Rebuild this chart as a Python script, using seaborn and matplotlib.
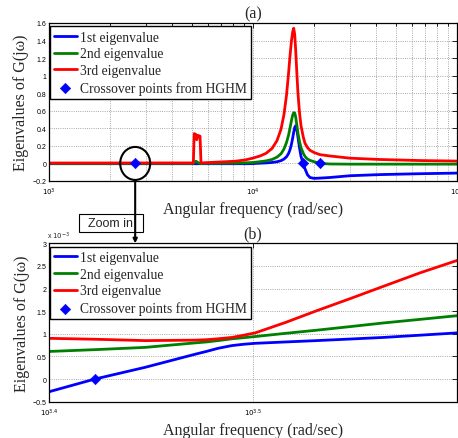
import numpy as np
import pandas as pd
import matplotlib
matplotlib.use('Agg')
import matplotlib.pyplot as plt
import seaborn as sns
from matplotlib.patches import Ellipse, Rectangle, ConnectionPatch
from matplotlib import transforms

sns.set_theme(style='white')
plt.rcParams['font.family'] = ['Liberation Sans', 'DejaVu Sans']
plt.rcParams['axes.edgecolor'] = 'black'
plt.rcParams['axes.linewidth'] = 0.9

serif = 'Liberation Serif'

# ---- datos panel (a): frecuencia (rad/s) y autovalores ----
freq_a = [1000, 5100, 5150, 5250, 5300, 5370, 5500, 5560, 8165, 9138,
          9888, 10822, 11580, 12390, 13110, 13720, 14190, 14600, 14930, 15180,
          15440, 15650, 15830, 16010, 16190, 16370, 16610, 16900, 17190, 17640,
          17980, 18500, 19020, 19910, 21300, 23850, 29890, 41940, 65850, 100000]

eig_1 = [-0.003, -0.003, -0.003, -0.003, -0.003, -0.003, -0.003, -0.003, -0.003, -0.003,
         -0.002, 0.003, 0.006, 0.011, 0.019, 0.032, 0.05, 0.076, 0.112, 0.155,
         0.22, 0.29, 0.355, 0.41, 0.43, 0.40, 0.30, 0.18, 0.08, 0.0,
         -0.06, -0.13, -0.16, -0.17, -0.167, -0.16, -0.14, -0.127, -0.117, -0.11]

eig_2 = [0.0, 0.0, 0.01, 0.025, 0.02, 0.01, 0.0, 0.0, 0.004, 0.007,
         0.01, 0.02, 0.029, 0.045, 0.072, 0.11, 0.165, 0.24, 0.32, 0.40,
         0.49, 0.55, 0.578, 0.575, 0.53, 0.45, 0.345, 0.25, 0.18, 0.115,
         0.08, 0.05, 0.035, 0.02, 0.0, -0.006, -0.008, -0.008, -0.008, -0.008]

eig_3 = [0.005, 0.006, 0.34, 0.33, 0.27, 0.32, 0.31, 0.006, 0.025, 0.04,
         0.058, 0.085, 0.115, 0.17, 0.26, 0.39, 0.56, 0.78, 1.02, 1.22,
         1.40, 1.50, 1.54, 1.47, 1.29, 1.07, 0.80, 0.58, 0.43, 0.30,
         0.23, 0.18, 0.15, 0.125, 0.10, 0.085, 0.06, 0.045, 0.033, 0.027]

cross_freq_a = [2645, 17640, 21300]
cross_val_a = [0.0, 0.0, 0.0]

# ---- datos panel (b): zoom, valores x 1e-3 ----
freq_b = [2512, 2645, 2800, 2963, 3000, 3040, 3088, 3130, 3170, 3280, 3398, 3530, 3664, 3820, 3981]
eig_1b = [-0.28, 0.0, 0.26, 0.55, 0.61, 0.68, 0.74, 0.77, 0.79, 0.82, 0.85, 0.885, 0.92, 0.97, 1.02]
eig_2b = [0.61, 0.65, 0.70, 0.80, 0.82, 0.85, 0.89, 0.915, 0.94, 1.01, 1.08, 1.16, 1.24, 1.32, 1.40]
eig_3b = [0.90, 0.88, 0.85, 0.86, 0.87, 0.89, 0.92, 0.97, 1.02, 1.25, 1.51, 1.78, 2.05, 2.35, 2.62]

cross_freq_b = [2645]
cross_val_b = [0.0]

labels = ['1st eigenvalue', '2nd eigenvalue', '3rd eigenvalue', 'Crossover points from HGHM']
colors = ['#0000ff', '#008000', '#ff0000']

fig = plt.figure(figsize=(4.58, 4.39), dpi=100)
ax_a = fig.add_axes([49/458, 1-182/439, 408/458, 158/439])
ax_b = fig.add_axes([49/458, 1-402.7/439, 408/458, 158.4/439])


def draw_panel(ax, fx, series, cf, cv):
    ax.set_xscale('log')
    for fy, c, lab in zip(series, colors, labels[:3]):
        sns.lineplot(x=fx, y=fy, ax=ax, color=c, lw=2, label=lab, estimator=None)
    sns.scatterplot(x=cf, y=cv, ax=ax, marker='D', color='#0000ff', s=28,
                    edgecolor='#0000ff', label=labels[3], zorder=5)
    h, l = ax.get_legend_handles_labels()
    leg = ax.legend(h, l, loc='upper left', bbox_to_anchor=(0.002, 0.978),
                    borderaxespad=0, prop={'family': serif, 'size': 9.8},
                    frameon=True, fancybox=False, edgecolor='black', framealpha=1,
                    handlelength=1.7, handletextpad=0.2, labelspacing=0.28,
                    borderpad=0.3, scatterpoints=1)
    leg.get_frame().set_linewidth(1.0)
    ax.tick_params(which='both', direction='in', top=True, right=True,
                   labelsize=5, width=0.6, colors='black', pad=2)
    ax.tick_params(axis='x', which='both', pad=3.5)
    ax.tick_params(which='major', length=3.5)
    ax.tick_params(which='minor', length=2)
    ax.grid(True, which='major', ls=':', color='0.55', lw=0.6)
    ax.set_xlabel('Angular frequency (rad/sec)', family=serif, fontsize=11.5, labelpad=3)
    ax.set_ylabel('Eigenvalues of G(j\u03c9)', family=serif, fontsize=11.5, labelpad=2)
    for s in ax.spines.values():
        s.set_color('black')


draw_panel(ax_a, freq_a, [eig_1, eig_2, eig_3], cross_freq_a, cross_val_a)
ax_a.set_xlim(1e3, 1e5)
ax_a.set_ylim(-0.2, 1.6)
ax_a.set_yticks(np.arange(-0.2, 1.61, 0.2))
ax_a.set_yticklabels(['\u22120.2', '0', '0.2', '0.4', '0.6', '0.8', '1', '1.2', '1.4', '1.6'])
ax_a.set_xticks([1e3, 1e4, 1e5])
ax_a.set_xticklabels([r'$10^{3}$', r'$10^{4}$', r'$10^{5}$'])
ax_a.xaxis.grid(True, which='minor', ls=':', color='0.55', lw=0.6)
ax_a.set_title('(a)', family=serif, fontsize=11.5, pad=4)

draw_panel(ax_b, freq_b, [eig_1b, eig_2b, eig_3b], cross_freq_b, cross_val_b)
ax_b.set_xlim(10**3.4, 10**3.6)
ax_b.set_ylim(-0.5, 3)
ax_b.set_yticks([-0.5, 0, 0.5, 1, 1.5, 2, 2.5, 3])
ax_b.set_yticklabels(['\u22120.5', '0', '0.5', '1', '1.5', '2', '2.5', '3'])
ax_b.xaxis.set_minor_locator(matplotlib.ticker.NullLocator())
ax_b.set_xticks([10**3.4, 10**3.5])
ax_b.set_xticklabels([r'$10^{3.4}$', r'$10^{3.5}$'])
ax_b.set_title('(b)', family=serif, fontsize=11.5, pad=4)
ax_b.text(-0.005, 1.015, r'x $10^{-3}$', transform=ax_b.transAxes, fontsize=5,
          ha='left', va='bottom')

# elipse alrededor del punto de cruce y flecha "Zoom in"
zoom_x = cross_freq_a[0]
trans = fig.dpi_scale_trans + transforms.ScaledTranslation(zoom_x, 0, ax_a.transData)
fig.add_artist(Ellipse((0, 0), 0.30, 0.33, transform=trans, fill=False,
                       ec='black', lw=1.5, clip_on=False, zorder=6))

fig.add_artist(Rectangle((79/458, 1-233/439), 64/458, 18/439, transform=fig.transFigure,
                         fc='white', ec='black', lw=0.8, zorder=3))
fig.text(111/458, 1-224/439, 'Zoom in', ha='center', va='center', fontsize=9, zorder=4)

arrow = ConnectionPatch(xyA=(zoom_x, 0), coordsA=ax_a.get_xaxis_transform(),
                        xyB=(zoom_x, 1),
                        coordsB=transforms.blended_transform_factory(ax_a.transData, ax_b.transAxes),
                        arrowstyle='-|>', mutation_scale=6, lw=1.5, color='black',
                        shrinkA=0, shrinkB=0, zorder=7)
fig.add_artist(arrow)

fig.savefig('out.png', dpi=100)
